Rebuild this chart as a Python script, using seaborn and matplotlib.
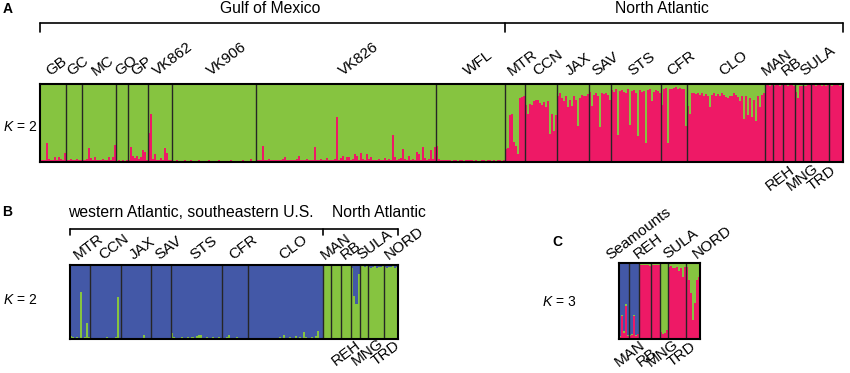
import numpy as np
import pandas as pd
import seaborn as sns
import matplotlib.pyplot as plt
from matplotlib import transforms

sns.set_style('white')
plt.rcParams['font.family'] = ['Liberation Sans', 'DejaVu Sans']
plt.rcParams['text.color'] = 'black'
plt.rcParams['mathtext.fontset'] = 'custom'
plt.rcParams['mathtext.it'] = 'Liberation Sans:italic'
plt.rcParams['mathtext.rm'] = 'Liberation Sans'

GREEN = '#86c440'
PINK = '#ee1966'
BLUE = '#4358a7'

# ---- panel A, K=2 : % membership in the pink cluster, one value per bar
a_pops = ['GB', 'GC', 'MC', 'GO', 'GP', 'VK862', 'VK906', 'VK826', 'WFL',
          'MTR', 'CCN', 'JAX', 'SAV', 'STS', 'CFR', 'CLO',
          'MAN', 'REH', 'RB', 'MNG', 'SULA', 'TRD', 'NORD']
a_groups = ['Gulf of Mexico', 'North Atlantic']
a_group_npops = [9, 14]
a_pink = [
    [2, 2, 3, 24, 4, 3, 3, 6, 3, 6, 4, 3, 11],
    [2, 3, 4, 2, 2, 4, 2, 3],
    [2, 3, 4, 18, 5, 3, 7, 3, 2, 3, 4, 3, 2, 6, 3, 7, 22],
    [1, 2, 1, 2, 1, 2],
    [3, 19, 8, 5, 8, 4, 6, 15, 13, 3],
    [37, 61, 4, 10, 3, 3, 5, 3, 18, 12, 3, 2],
    [1, 1, 2, 1, 1, 1, 3, 1, 1, 2, 1, 1, 1, 2, 1, 1, 1, 1, 2, 1,
     1, 1, 1, 2, 1, 1, 1, 1, 1, 2, 1, 1, 1, 1, 1, 2, 1, 1, 1, 4, 1, 1],
    [3, 2, 3, 20, 3, 2, 4, 2, 3, 2, 3, 2, 3, 4, 6, 3, 2, 3, 2, 3,
     4, 8, 3, 2, 3, 4, 3, 2, 3, 19, 3, 2, 4, 3, 2, 5, 3, 2, 3, 4,
     58, 3, 5, 8, 3, 6, 7, 3, 4, 10, 8, 3, 12, 4, 3, 10, 4, 6, 3, 2,
     3, 4, 2, 3, 5, 3, 4, 3, 34, 6, 3, 4, 5, 17, 4, 3, 8, 3, 4, 2,
     13, 10, 3, 19, 5, 3, 4, 16, 4, 19],
    [21, 4, 3, 2, 2, 3, 2, 1, 2, 2, 1, 2, 2, 1, 2, 2, 3, 2, 1, 2,
     1, 1, 2, 2, 1, 2, 2, 1, 2, 1, 2, 2, 1, 2],
    [17, 18, 60, 62, 26, 20, 10, 82, 83, 84],
    [73, 62, 75, 73, 78, 80, 80, 76, 73, 77, 71, 78, 36, 62, 40, 60],
    [85, 88, 82, 78, 84, 70, 80, 72, 84, 80, 46, 82, 86, 84, 85, 87],
    [90, 72, 86, 88, 84, 45, 88, 87, 89, 86, 80],
    [92, 90, 93, 35, 91, 92, 90, 89, 93, 48, 91, 92, 88, 33, 92, 90, 91, 24, 92, 93,
     78, 90, 92, 91, 89],
    [73, 94, 95, 24, 94, 93, 95, 96, 94, 95, 93, 94, 46],
    [72, 62, 88, 89, 87, 88, 86, 89, 85, 87, 84, 70, 86, 88, 84, 87, 85, 88, 86, 83,
     82, 85, 84, 88, 86, 83, 78, 85, 55, 84, 60, 82, 58, 80, 53, 84, 71, 86, 88],
    [99, 99, 98, 99],
    [98, 99, 99, 98, 99],
    [99, 99, 98, 99, 99, 98],
    [90, 82, 97, 98],
    [98, 97, 99, 99],
    [99, 99, 98, 99, 99, 97, 99, 98, 99],
    [99, 98, 99, 99, 99, 98, 99],
]
a_below = ['REH', 'MNG', 'TRD']
a_hidden = ['NORD']

# ---- panel B, K=2 : % membership in the green cluster
b_pops = ['MTR', 'CCN', 'JAX', 'SAV', 'STS', 'CFR', 'CLO',
          'MAN', 'REH', 'RB', 'MNG', 'SULA', 'TRD', 'NORD']
b_groups = ['western Atlantic, southeastern U.S.', 'North Atlantic']
b_group_npops = [7, 7]
b_green = [
    [4, 3, 2, 3, 2, 64, 2, 3, 21, 3],
    [2, 2, 2, 2, 2, 2, 2, 2, 3, 2, 2, 2, 3, 57, 2],
    [1, 1, 2, 1, 1, 2, 1, 1, 1, 2, 2, 5, 2, 1, 1],
    [1, 1, 2, 1, 1, 1, 2, 1, 1, 2],
    [8, 3, 2, 2, 2, 3, 2, 2, 3, 2, 3, 2, 4, 6, 5, 2, 2, 3, 2, 2, 3, 2, 2, 3, 2],
    [2, 2, 3, 5, 2, 2, 2, 3, 2, 2, 2, 2, 2],
    [1, 2, 1, 1, 2, 1, 2, 1, 1, 2, 1, 1, 2, 1, 2, 3, 2, 6, 2, 2,
     3, 2, 2, 4, 2, 3, 2, 9, 3, 2, 2, 3, 2, 4, 11, 2, 1],
    [99, 98, 99, 98],
    [98, 99, 99, 98, 99],
    [99, 99, 98, 99, 99],
    [96, 58, 47, 88],
    [99, 98, 97, 99],
    [97, 96, 97, 98, 96, 97, 97, 98],
    [97, 96, 97, 97, 98, 96, 97],
]
b_below = ['REH', 'MNG', 'TRD']

# ---- panel C, K=3 : % pink and % green (rest is blue)
c_pops = ['MAN', 'REH', 'RB', 'MNG', 'SULA', 'TRD', 'NORD']
c_pink = [
    [3, 30, 8, 43, 4],
    [4, 5, 30, 4, 6],
    [98, 98, 97, 98, 97, 96],
    [98, 97, 98, 97],
    [9, 7, 8, 12],
    [95, 96, 94, 93, 95, 90, 94, 82, 95],
    [95, 78, 60, 25, 48, 78, 82],
]
c_green = [
    [1, 2, 3, 3, 1],
    [1, 1, 1, 1, 1],
    [2, 2, 3, 2, 3, 3],
    [2, 3, 2, 3],
    [90, 92, 91, 87],
    [5, 4, 6, 7, 5, 10, 6, 18, 5],
    [5, 22, 40, 75, 52, 22, 18],
]
c_below = ['MAN', 'RB', 'MNG', 'TRD']


def build(pops, **clusters):
    rows = []
    for i, p in enumerate(pops):
        first = list(clusters.values())[0][i]
        for j in range(len(first)):
            row = {'pop': p}
            for k, v in clusters.items():
                row[k] = v[i][j]
            rows.append(row)
    df = pd.DataFrame(rows)
    df['ind'] = np.arange(len(df))
    return df


def draw_structure(ax, df, order, colors):
    # order = clusters bottom -> top; draw cumulative heights from the top down
    cum = df[order].cumsum(axis=1)
    for col in reversed(order):
        sns.barplot(x=df['ind'], y=cum[col], color=colors[col], width=1,
                    saturation=1, linewidth=0, errorbar=None,
                    native_scale=True, ax=ax)
    for p in ax.patches:
        p.set_antialiased(False)
    n = len(df)
    sizes = df.groupby('pop', sort=False).size()
    for b in sizes.cumsum().values[:-1]:
        ax.axvline(b - 0.5, color='#262626', lw=1.0)
    ax.set_xlim(-0.5, n - 0.5)
    ax.set_ylim(0, 100)
    ax.set_xticks([])
    ax.set_yticks([])
    ax.set_xlabel('')
    ax.set_ylabel('')
    for s in ax.spines.values():
        s.set_color('black')
        s.set_linewidth(1.5)
    return sizes


def pop_labels(fig, ax, sizes, below=(), hidden=(), dx=-8, dxb=-8, up=8, down=29):
    starts = sizes.cumsum() - sizes
    blend = transforms.blended_transform_factory(ax.transData, ax.transAxes)
    for p, n in sizes.items():
        if p in hidden:
            continue
        xc = starts[p] + n / 2 - 0.5
        if p in below:
            tr = transforms.offset_copy(blend, fig=fig, x=dxb, y=-down, units='dots')
            y = 0
        else:
            tr = transforms.offset_copy(blend, fig=fig, x=dx, y=up, units='dots')
            y = 1
        ax.text(xc, y, p, transform=tr, rotation=37,
                rotation_mode='anchor', ha='left', va='baseline', fontsize=11)


def brackets(fig, ax, sizes, npops, names, y, tick, ytext, ha, shifts):
    blend = transforms.blended_transform_factory(ax.transData, ax.transAxes)
    ends = sizes.cumsum().values
    edges = [-0.5] + [ends[k - 1] - 0.5 for k in np.cumsum(npops)]
    ax.plot([edges[0], edges[-1]], [y, y], color='black', lw=1.2,
            transform=blend, clip_on=False)
    for e in edges:
        ax.plot([e, e], [y, tick], color='black', lw=1.2,
                transform=blend, clip_on=False)
    for name, lo, hi, sh in zip(names, edges[:-1], edges[1:], shifts):
        tr = transforms.offset_copy(blend, fig=fig, x=sh, y=0, units='dots')
        x = (lo + hi) / 2 if ha == 'center' else lo
        ax.text(x, ytext, name, transform=tr, ha=ha, va='center', fontsize=11.3)


fig = plt.figure(figsize=(8.5, 3.73), dpi=100)
W, H = 850, 373


def px_axes(x0, y0, x1, y1):
    return fig.add_axes([x0 / W, 1 - y1 / H, (x1 - x0) / W, (y1 - y0) / H])


# panel A
axA = px_axes(40, 84, 843, 162)
dfA = build(a_pops, pink=a_pink)
dfA['green'] = 100 - dfA['pink']
sizesA = draw_structure(axA, dfA, ['pink', 'green'], {'pink': PINK, 'green': GREEN})
pop_labels(fig, axA, sizesA, below=a_below, hidden=a_hidden, dx=-3, dxb=-8, up=8, down=29)
brackets(fig, axA, sizesA, a_group_npops, a_groups, 1.782, 1.667, 1.962,
         'center', [-2, -12])

# panel B
axB = px_axes(70, 265, 398, 339)
dfB = build(b_pops, green=b_green)
dfB['blue'] = 100 - dfB['green']
sizesB = draw_structure(axB, dfB, ['green', 'blue'], {'green': GREEN, 'blue': BLUE})
pop_labels(fig, axB, sizesB, below=b_below, dx=-2, dxb=0, up=5, down=27)
brackets(fig, axB, sizesB, b_group_npops, b_groups, 1.486, 1.405, 1.716,
         'left', [-2, 9])

# panel C
axC = px_axes(619, 263, 700, 339)
dfC = build(c_pops, pink=c_pink, green=c_green)
dfC['blue'] = 100 - dfC['pink'] - dfC['green']
sizesC = draw_structure(axC, dfC, ['pink', 'green', 'blue'],
                        {'pink': PINK, 'green': GREEN, 'blue': BLUE})
pop_labels(fig, axC, sizesC, below=c_below, dx=4, dxb=-5, up=4, down=28)
trC = transforms.offset_copy(axC.transAxes, fig=fig, x=-9, y=3, units='dots')
axC.text(0, 1, 'Seamounts', transform=trC, rotation=37, rotation_mode='anchor',
         ha='left', va='baseline', fontsize=11)

# panel letters and K labels
for letter, x, y in [('A', 8, 9), ('B', 7.5, 212), ('C', 557, 242)]:
    fig.text(x / W, 1 - y / H, letter, fontsize=10, weight='bold', ha='center', va='center')
for lab, x, y in [(r'$K$ = 2', 3, 127), (r'$K$ = 2', 3, 300), (r'$K$ = 3', 542, 302)]:
    fig.text(x / W, 1 - y / H, lab, fontsize=10, ha='left', va='center')

fig.savefig('out.png', dpi=100)
